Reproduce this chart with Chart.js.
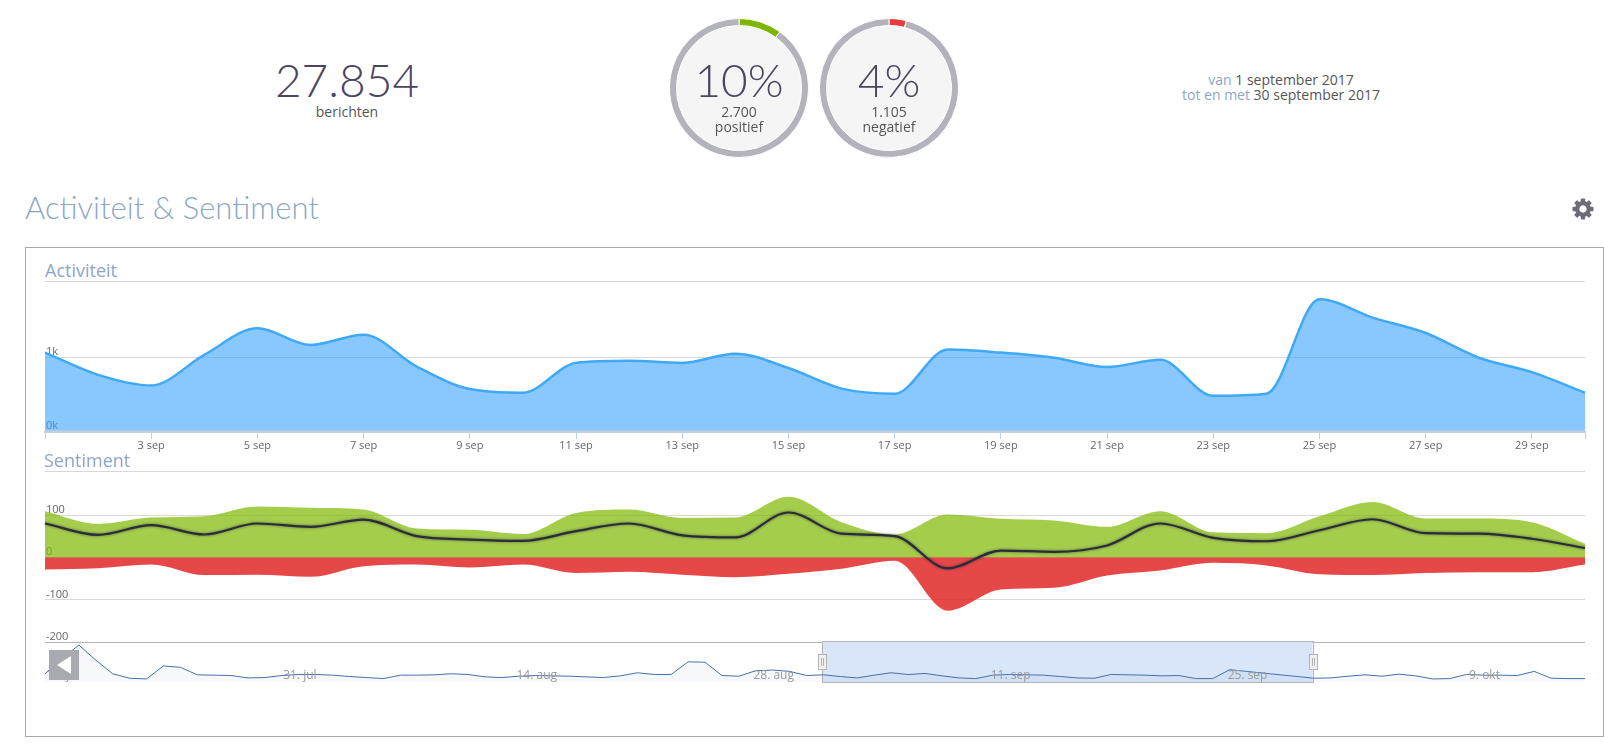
<!DOCTYPE html>
<html>
<head>
<meta charset="utf-8">
<title>Activiteit & Sentiment</title>
<script src="https://cdn.jsdelivr.net/npm/chart.js@4"></script>
<style>
    html, body { margin: 0; padding: 0; background: #fff; }
    body { width: 1621px; height: 755px; position: relative; overflow: hidden; font-family: "Open Sans", sans-serif; color: #555; }
    .abs { position: absolute; white-space: nowrap; }
    .center { transform: translateX(-50%); text-align: center; }
    .big { font-family: Lato, sans-serif; font-weight: 300; font-size: 46px; line-height: 48px; color: #4a4660; }
    .small { font-size: 14px; line-height: 14.5px; }
    .blue { color: #8ea6c6; }
    .circle { position: absolute; top: 18px; width: 140px; height: 140px; border-radius: 50%; background: #f5f5f5; }
    .section { font-size: 18px; line-height: 22px; color: #8ea6c6; }
    .rule { position: absolute; left: 45px; width: 1540px; height: 1px; background: #d8d8d8; }
    canvas { position: absolute; }
    #back { position: absolute; left: 49px; top: 650px; width: 30px; height: 30px; background: #a9a9b2; }
    #back div { position: absolute; left: 8px; top: 6px; width: 0; height: 0; border-top: 9.5px solid transparent; border-bottom: 9.5px solid transparent; border-right: 14px solid #fff; }
</style>
</head>
<body>
    <div class="abs center big" style="left:347px;top:56px">27.854</div>
    <div class="abs center small" style="left:347px;top:105px">berichten</div>

    <div class="circle" style="left:669px"></div>
    <canvas id="positive" style="left:669px;top:18px"></canvas>
    <div class="abs center big" style="left:739px;top:56px">10%</div>
    <div class="abs center small" style="left:739px;top:105px">2.700<br>positief</div>

    <div class="circle" style="left:819px"></div>
    <canvas id="negative" style="left:819px;top:18px"></canvas>
    <div class="abs center big" style="left:889px;top:56px">4%</div>
    <div class="abs center small" style="left:889px;top:105px">1.105<br>negatief</div>

    <div class="abs center small" style="left:1281px;top:73px"><span class="blue">van</span> 1 september 2017<br><span class="blue">tot en met</span> 30 september 2017</div>

    <div class="abs blue" style="left:25px;top:189px;font-family:Lato,sans-serif;font-weight:300;font-size:31px;line-height:36px">Activiteit &amp; Sentiment</div>
    <svg class="abs" style="left:1572px;top:198px" width="22" height="22" viewBox="-11 -11 22 22">
        <g fill="#6e6b78">
            <rect x="-2.2" y="-10.5" width="4.4" height="21" rx="1"/>
            <rect x="-2.2" y="-10.5" width="4.4" height="21" rx="1" transform="rotate(45)"/>
            <rect x="-2.2" y="-10.5" width="4.4" height="21" rx="1" transform="rotate(90)"/>
            <rect x="-2.2" y="-10.5" width="4.4" height="21" rx="1" transform="rotate(135)"/>
        </g>
        <circle r="5.8" fill="#fff" stroke="#6e6b78" stroke-width="4.2"/>
    </svg>

    <div class="abs" style="left:25px;top:247px;width:1577px;height:488px;border:1px solid #aaa"></div>

    <div class="abs section" style="left:45px;top:259px">Activiteit</div>
    <div class="rule" style="top:281px"></div>
    <canvas id="activity" style="left:44px;top:280px"></canvas>

    <div class="abs section" style="left:44px;top:449px">Sentiment</div>
    <div class="rule" style="top:471px"></div>
    <canvas id="sentiment" style="left:44px;top:470px"></canvas>

    <canvas id="navigator" style="left:44px;top:641px"></canvas>
    <div id="back"><div></div></div>

<script>
const days = ['1 sep', '2 sep', '3 sep', '4 sep', '5 sep', '6 sep', '7 sep', '8 sep', '9 sep', '10 sep',
    '11 sep', '12 sep', '13 sep', '14 sep', '15 sep', '16 sep', '17 sep', '18 sep', '19 sep', '20 sep',
    '21 sep', '22 sep', '23 sep', '24 sep', '25 sep', '26 sep', '27 sep', '28 sep', '29 sep', '30 sep'];
const activityValues = [1063, 760, 615, 1032, 1394, 1167, 1308, 873, 566, 516,
    923, 951, 923, 1049, 853, 572, 502, 1105, 1063, 993,
    867, 965, 474, 502, 1792, 1540, 1330, 993, 797, 516];
const positiveValues = [109, 79, 94, 97, 120, 117, 113, 68, 65, 55,
    105, 113, 93, 94, 143, 83, 54, 101, 91, 87,
    72, 109, 59, 57, 97, 131, 92, 92, 83, 32];
const negativeValues = [-29, -26, -17, -42, -41, -46, -21, -17, -24, -17,
    -37, -34, -41, -47, -39, -27, -8, -126, -76, -72,
    -43, -31, -13, -19, -40, -42, -37, -35, -35, -17];
const netValues = [80, 53, 76, 54, 80, 72, 89, 50, 42, 39,
    62, 80, 52, 47, 106, 56, 50, -26, 16, 13,
    28, 80, 46, 38, 64, 90, 57, 56, 44, 22];
const activityTicks = [0, 1000];
const sentimentTicks = [100, 0, -100, -200];

const navValues = [1128, 3243, 5076, 3008, 1128, 517, 423, 2209, 2021, 987,
    940, 893, 564, 611, 893, 1034, 1034, 940, 752, 611,
    470, 940, 940, 987, 1128, 1034, 705, 611, 799, 893,
    846, 799, 705, 611, 846, 1269, 1034, 1034, 2773, 2726,
    893, 799, 1551, 1645, 1457, 893, 987, 752, 564, 940,
    1269, 1034, 1175, 846, 564, 470, 940, 1034, 987, 940,
    752, 564, 517, 1034, 987, 940, 846, 893, 470, 470,
    1692, 1457, 1222, 987, 752, 517, 564, 799, 987, 799,
    1081, 846, 423, 470, 1034, 940, 940, 893, 1457, 517,
    470, 470];
const navTickIndex = [1, 15, 29, 43, 57, 71, 85];
const navTickLabels = ['17. jul', '31. jul', '14. aug', '28. aug', '11. sep', '25. sep', '9. okt'];
const navSelection = [45.9, 74.9];

const positiveShare = [10, 90];
const negativeShare = [4, 96];

const tickFont = { family: 'Open Sans', size: 11 };
const gridColor = '#d8d8d8';

Chart.defaults.animation = false;
Chart.defaults.responsive = false;
Chart.defaults.plugins.legend.display = false;
Chart.defaults.plugins.tooltip.enabled = false;

// soft dark edge around the spline lines
const lineGlow = {
    id: 'lineGlow',
    beforeDatasetDraw(chart, args) {
        let glow = chart.data.datasets[args.index].glow;
        if (glow) {
            chart.ctx.save();
            chart.ctx.shadowColor = glow;
            chart.ctx.shadowBlur = 3;
        }
    },
    afterDatasetDraw(chart, args) {
        if (chart.data.datasets[args.index].glow) {
            chart.ctx.restore();
        }
    }
};

// navigator band, date labels and the two handles
const navBand = {
    id: 'navBand',
    beforeDatasetsDraw(chart) {
        let ctx = chart.ctx;
        let area = chart.chartArea;
        let left = chart.scales.x.getPixelForValue(navSelection[0]);
        let right = chart.scales.x.getPixelForValue(navSelection[1]);
        ctx.save();
        ctx.fillStyle = '#d9e6f9';
        ctx.fillRect(left, area.top, right - left, area.bottom - area.top);
        ctx.strokeStyle = '#b4b4b8';
        ctx.lineWidth = 1;
        ctx.strokeRect(Math.round(left) + 0.5, area.top - 0.5, Math.round(right - left), area.bottom - area.top + 1);
        ctx.restore();
    },
    afterDraw(chart) {
        let ctx = chart.ctx;
        let area = chart.chartArea;
        ctx.save();
        ctx.fillStyle = '#999';
        ctx.font = '12px "Open Sans"';
        ctx.textAlign = 'center';
        ctx.textBaseline = 'middle';
        navTickIndex.forEach((index, i) => {
            ctx.fillText(navTickLabels[i], chart.scales.x.getPixelForValue(index) + 1, area.bottom - 6);
        });
        ctx.restore();
        navSelection.forEach(index => {
            let x = Math.round(chart.scales.x.getPixelForValue(index));
            ctx.save();
            ctx.fillStyle = '#f0f0f0';
            ctx.strokeStyle = '#b4b4b8';
            ctx.fillRect(x - 3.5, area.top + 12.5, 8, 15);
            ctx.strokeRect(x - 3.5, area.top + 12.5, 8, 15);
            ctx.beginPath();
            ctx.moveTo(x - 0.5, area.top + 16);
            ctx.lineTo(x - 0.5, area.top + 24);
            ctx.moveTo(x + 1.5, area.top + 16);
            ctx.lineTo(x + 1.5, area.top + 24);
            ctx.stroke();
            ctx.restore();
        });
    }
};

function setSize(id, width, height) {
    let canvas = document.getElementById(id);
    canvas.width = width;
    canvas.height = height;
    return canvas.getContext('2d');
}

function yAxis(min, max, ticks) {
    return {
        min: min,
        max: max,
        afterBuildTicks: scale => { scale.ticks = ticks.map(v => ({ value: v })); },
        afterFit: scale => {
            scale.width = 0;
            scale.paddingTop = 0;
            scale.paddingBottom = 0;
        },
        border: { display: false },
        grid: {
            drawTicks: false,
            tickLength: 0,
            color: ctx => ctx.tick && ctx.tick.value === -200 ? '#b4b4b8' : gridColor
        },
        ticks: {
            mirror: true,
            padding: 1,
            labelOffset: -5,
            color: '#666',
            font: tickFont,
            callback: v => min === -200 ? String(v) : (v / 1000) + 'k'
        }
    };
}

function showActivity() {
    new Chart(setSize('activity', 1542, 176), {
        type: 'line',
        data: {
            labels: days,
            datasets: [{
                data: activityValues,
                borderColor: '#3fa9f5',
                backgroundColor: 'rgba(58, 163, 255, 0.6)',
                borderWidth: 2.5,
                cubicInterpolationMode: 'monotone',
                pointRadius: 0,
                fill: 'origin'
            }]
        },
        options: {
            layout: { padding: { top: 1, left: 1, right: 1, bottom: 0 } },
            scales: {
                x: {
                    afterFit: scale => { scale.height = 24; },
                    border: { display: true, color: '#c0d0e0', width: 2 },
                    grid: {
                        drawOnChartArea: false,
                        tickLength: 7,
                        tickColor: ctx => ctx.index % 2 === 0 || ctx.index === days.length - 1 ? '#c0d0e0' : 'transparent'
                    },
                    ticks: {
                        autoSkip: false,
                        maxRotation: 0,
                        padding: 0,
                        color: '#666',
                        font: tickFont,
                        callback: (v, i) => i > 0 && i % 2 === 0 ? days[i] : ''
                    }
                },
                y: yAxis(-20, 2040, activityTicks)
            }
        }
    });
}

function showSentiment() {
    new Chart(setSize('sentiment', 1542, 174), {
        type: 'line',
        data: {
            labels: days,
            datasets: [{
                data: netValues,
                borderColor: '#2b2b3b',
                borderWidth: 2.2,
                cubicInterpolationMode: 'monotone',
                pointRadius: 0,
                fill: false,
                glow: 'rgba(30, 30, 40, 0.6)'
            }, {
                data: positiveValues,
                backgroundColor: 'rgba(127, 184, 0, 0.7)',
                borderWidth: 0,
                cubicInterpolationMode: 'monotone',
                pointRadius: 0,
                fill: 'origin'
            }, {
                data: negativeValues,
                backgroundColor: 'rgba(226, 40, 40, 0.85)',
                borderWidth: 0,
                cubicInterpolationMode: 'monotone',
                pointRadius: 0,
                fill: 'origin'
            }]
        },
        options: {
            layout: { padding: { top: 1, left: 1, right: 1, bottom: 2 } },
            scales: {
                x: { display: false },
                y: yAxis(-200, 204, sentimentTicks)
            }
        },
        plugins: [lineGlow]
    });
}

function showNavigator() {
    new Chart(setSize('navigator', 1542, 42), {
        type: 'line',
        data: {
            labels: navValues.map((v, i) => i),
            datasets: [{
                data: navValues,
                borderColor: '#4572a7',
                backgroundColor: 'rgba(69, 114, 167, 0.05)',
                borderWidth: 1,
                tension: 0,
                pointRadius: 0,
                fill: 'origin'
            }]
        },
        options: {
            layout: { padding: { top: 1, left: 1, right: 1, bottom: 1 } },
            scales: {
                x: { display: false },
                y: { display: false, min: 0, max: 5500 }
            }
        },
        plugins: [navBand]
    });
}

function showRing(id, share, color) {
    new Chart(setSize(id, 140, 140), {
        type: 'doughnut',
        data: {
            datasets: [{
                data: share,
                backgroundColor: [color, '#b3b3bb'],
                borderColor: '#fff',
                borderWidth: 1
            }]
        },
        options: { cutout: '90%' }
    });
}

window.addEventListener('DOMContentLoaded', () => {
    showRing('positive', positiveShare, '#7db500');
    showRing('negative', negativeShare, '#e53e3e');
    showActivity();
    showSentiment();
    showNavigator();
});
</script>
</body>
</html>
